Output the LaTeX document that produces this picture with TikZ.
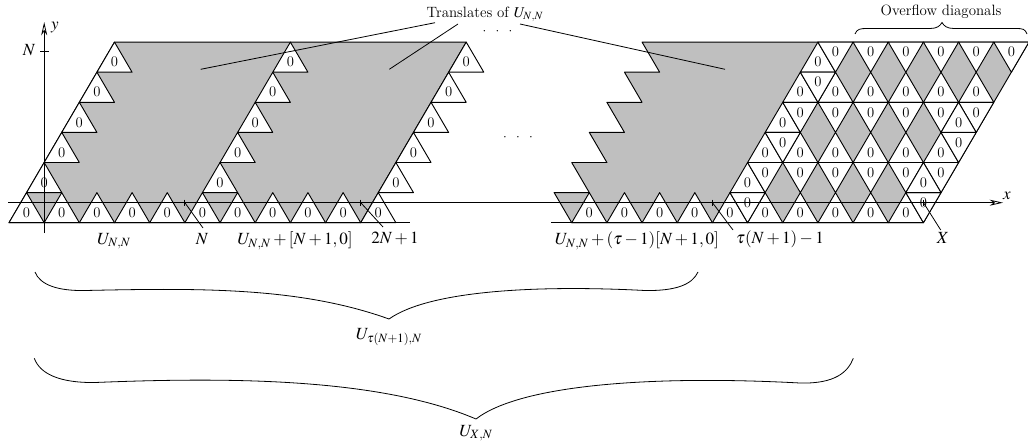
\documentclass[tikz,border=0pt]{standalone}
\usepackage{mathptmx}
\usetikzlibrary{arrows.meta}
\definecolor{cellgray}{RGB}{191,191,191}
% lattice vertex (i,r) of the triangular grid, in pixel units
\newcommand\Pt[2]{({9+35.17*((#1)+(#2)/2)},{222.7-30.1*(#2)})}
% white up / down triangle carrying a 0
\newcommand\Uz[2]{\filldraw[cell] \Pt{#1}{#2} -- \Pt{#1+1}{#2} -- \Pt{#1}{#2+1} -- cycle;
  \path \Pt{#1+1/3}{#2+1/3} node[zero] (u-#1-#2) {0};}
\newcommand\Dz[2]{\filldraw[cell] \Pt{#1+1}{#2} -- \Pt{#1}{#2+1} -- \Pt{#1+1}{#2+1} -- cycle;
  \path \Pt{#1+2/3}{#2+2/3} node[zero] (d-#1-#2) {0};}
\newcommand\spdots{$\cdot\hspace{5.6pt}\cdot\hspace{5.6pt}\cdot$}
\tikzset{
  cell/.style={fill=white, draw=black, line width=0.7pt, line join=round},
  grayreg/.style={fill=cellgray, draw=black, line width=0.7pt, line join=round},
  zero/.style={inner sep=0pt, font=\fontsize{11}{13}\selectfont},
  lbl/.style={inner sep=1pt, font=\fontsize{12.8}{15}\selectfont},
  txt/.style={inner sep=1pt, font=\fontsize{11.2}{13}\selectfont},
  dots/.style={inner sep=0pt, anchor=base, text height=3pt, text depth=0pt,
    font=\fontsize{10}{12}\selectfont},
  axis/.style={line width=0.6pt, -{Stealth[open, length=10pt, width=4.5pt, inset=3pt]}},
  thin line/.style={line width=0.6pt},
  brace/.style={line width=0.6pt},
}
\begin{document}
\begin{tikzpicture}[x=0.75pt, y=-0.75pt]
\useasboundingbox (0,0) rectangle (1028,443);

% shaded regions
\filldraw[grayreg] \Pt{0}{0} -- \Pt{10}{0} -- \Pt{10}{6} -- \Pt{0}{6} -- cycle;
\filldraw[grayreg] \Pt{16}{0} -- \Pt{26}{0} -- \Pt{26}{6} -- \Pt{15}{6} -- \Pt{16}{5} -- \Pt{15}{5}
  -- \Pt{16}{4} -- \Pt{15}{4} -- \Pt{16}{3} -- \Pt{15}{3} -- \Pt{16}{2} -- \Pt{15}{2}
  -- \Pt{16}{1} -- \Pt{15}{1} -- cycle;

% bottom row and staircases of the first two translates
\foreach \i in {0,...,10} {\Uz{\i}{0}}
\foreach \r in {1,...,5} {\Uz{0}{\r} \Uz{5}{\r} \Uz{10}{\r}}

% last translate and overflow part
\foreach \i in {16,...,25} {\Uz{\i}{0}}
\foreach \r in {1,...,5} {\Uz{20}{\r}}
\foreach \r in {2,4} {\foreach \i in {21,...,25} {\Uz{\i}{\r}}}
\foreach \r in {0,2,4} {\Dz{20}{\r}}
\foreach \r in {0,2} {\Dz{25}{\r}}
\foreach \r in {1,3,5} {\foreach \i in {20,...,25} {\Dz{\i}{\r}}}
\foreach \r in {1,3} {\Uz{25}{\r}}

% base lines
\coordinate (bl1) at (9,222.7);   \coordinate (bl2) at (410,222.7);
\coordinate (bl3) at (551,222.7); \coordinate (bl4) at (923.3,222.7);
\draw[thin line] (bl1) -- (bl2);
\draw[thin line] (bl3) -- (bl4);

% axes
\coordinate (xs) at (8,202.7);  \coordinate (xe) at (1003,202.7);
\coordinate (ys) at (44.2,233); \coordinate (ye) at (44.2,22);
\draw[axis] (xs) -- (xe);
\draw[axis] (ys) -- (ye);
\node[lbl] (xlab) at (1007,196) {$x$};
\node[lbl] (ylab) at (55,28) {$y$};
\coordinate (tk1) at (40,51.7); \coordinate (tk2) at (48.5,51.7);
\draw[thin line] (tk1) -- (tk2);
\node[lbl] (Nlab) at (29,50) {$N$};

% labels under the base line
\node[lbl] (l1) at (114,241) {$U_{N,N}$};
\node[lbl] (l2) at (202,239) {$N$};
\node[lbl] (l3) at (295,241) {$U_{N,N}+[N+1,0]$};
\node[lbl] (l4) at (395,238) {$2N+1$};
\node[lbl] (l5) at (637,241) {$U_{N,N}+(\tau-1)[N+1,0]$};
\node[lbl] (l6) at (780,239) {$\tau(N+1)-1$};
\node[lbl] (l7) at (943,238) {$X$};

% pointers to lattice points, each with a small mark at the point
\path \Pt{4+2/3}{2/3} coordinate (p2);   \coordinate (q2) at (203,228);
\path \Pt{9+2/3}{2/3} coordinate (p4);   \coordinate (q4) at (383,227);
\path \Pt{19+2/3}{2/3} coordinate (p6);  \coordinate (q6) at (733,230);
\path \Pt{25+2/3}{2/3} coordinate (p7);  \coordinate (q7) at (940.7,230);
\foreach \p/\q in {p2/q2, p4/q4, p6/q6, p7/q7} {
  \draw[thin line] (\p) -- (\q);
  \draw[thin line] (\p) ++(0,-3) -- ++(0,6.5);
}

% title and pointers to the translates
\node[txt] (tr) at (485,14) {Translates of $U_{N,N}$};
\node[dots] (dt) at (497.5,34.5) {\spdots};
\node[dots] (dm) at (518,140) {\spdots};
\coordinate (a1) at (200.7,69.3); \coordinate (b1) at (435,22.7);
\coordinate (a2) at (389.3,69.3); \coordinate (b2) at (458,24);
\coordinate (a3) at (725,69.3);   \coordinate (b3) at (520,24);
\draw[thin line] (a1) -- (b1);
\draw[thin line] (a2) -- (b2);
\draw[thin line] (a3) -- (b3);

% overflow brace
\node[txt] (ov) at (941,12) {Overflow diagonals};
\coordinate (ob1) at (855,34); \coordinate (ob2) at (942,22.5); \coordinate (ob3) at (1027,34);
\draw[brace] (ob1) .. controls (857,29) and (860,28.5) .. (867,28.5) -- (930,28.5)
  .. controls (937,28.5) and (940,26) .. (ob2) .. controls (944,26) and (947,28.5) .. (954,28.5)
  -- (1016,28.5) .. controls (1023,28.5) and (1025,29) .. (ob3);

% braces below
\coordinate (c1l) at (35,272); \coordinate (c1t) at (389,319); \coordinate (c1r) at (698,272);
\draw[brace] (c1l) .. controls (40,285) and (58,291) .. (85,290.5)
  .. controls (200,288) and (300,287) .. (c1t)
  .. controls (430,290) and (540,285) .. (645,290.5)
  .. controls (675,291) and (692,285) .. (c1r);
\node[lbl] (bl) at (389,337) {$U_{\tau(N+1),N}$};

\coordinate (c2l) at (34.3,358.3); \coordinate (c2t) at (476,419); \coordinate (c2r) at (853.3,358.3);
\draw[brace] (c2l) .. controls (40,374) and (60,383) .. (95,382.5)
  .. controls (230,377) and (380,378) .. (c2t)
  .. controls (520,385) and (650,375) .. (800,383)
  .. controls (835,384) and (848,372) .. (c2r);
\node[lbl] (bx) at (476,433) {$U_{X,N}$};
\end{tikzpicture}
\end{document}
